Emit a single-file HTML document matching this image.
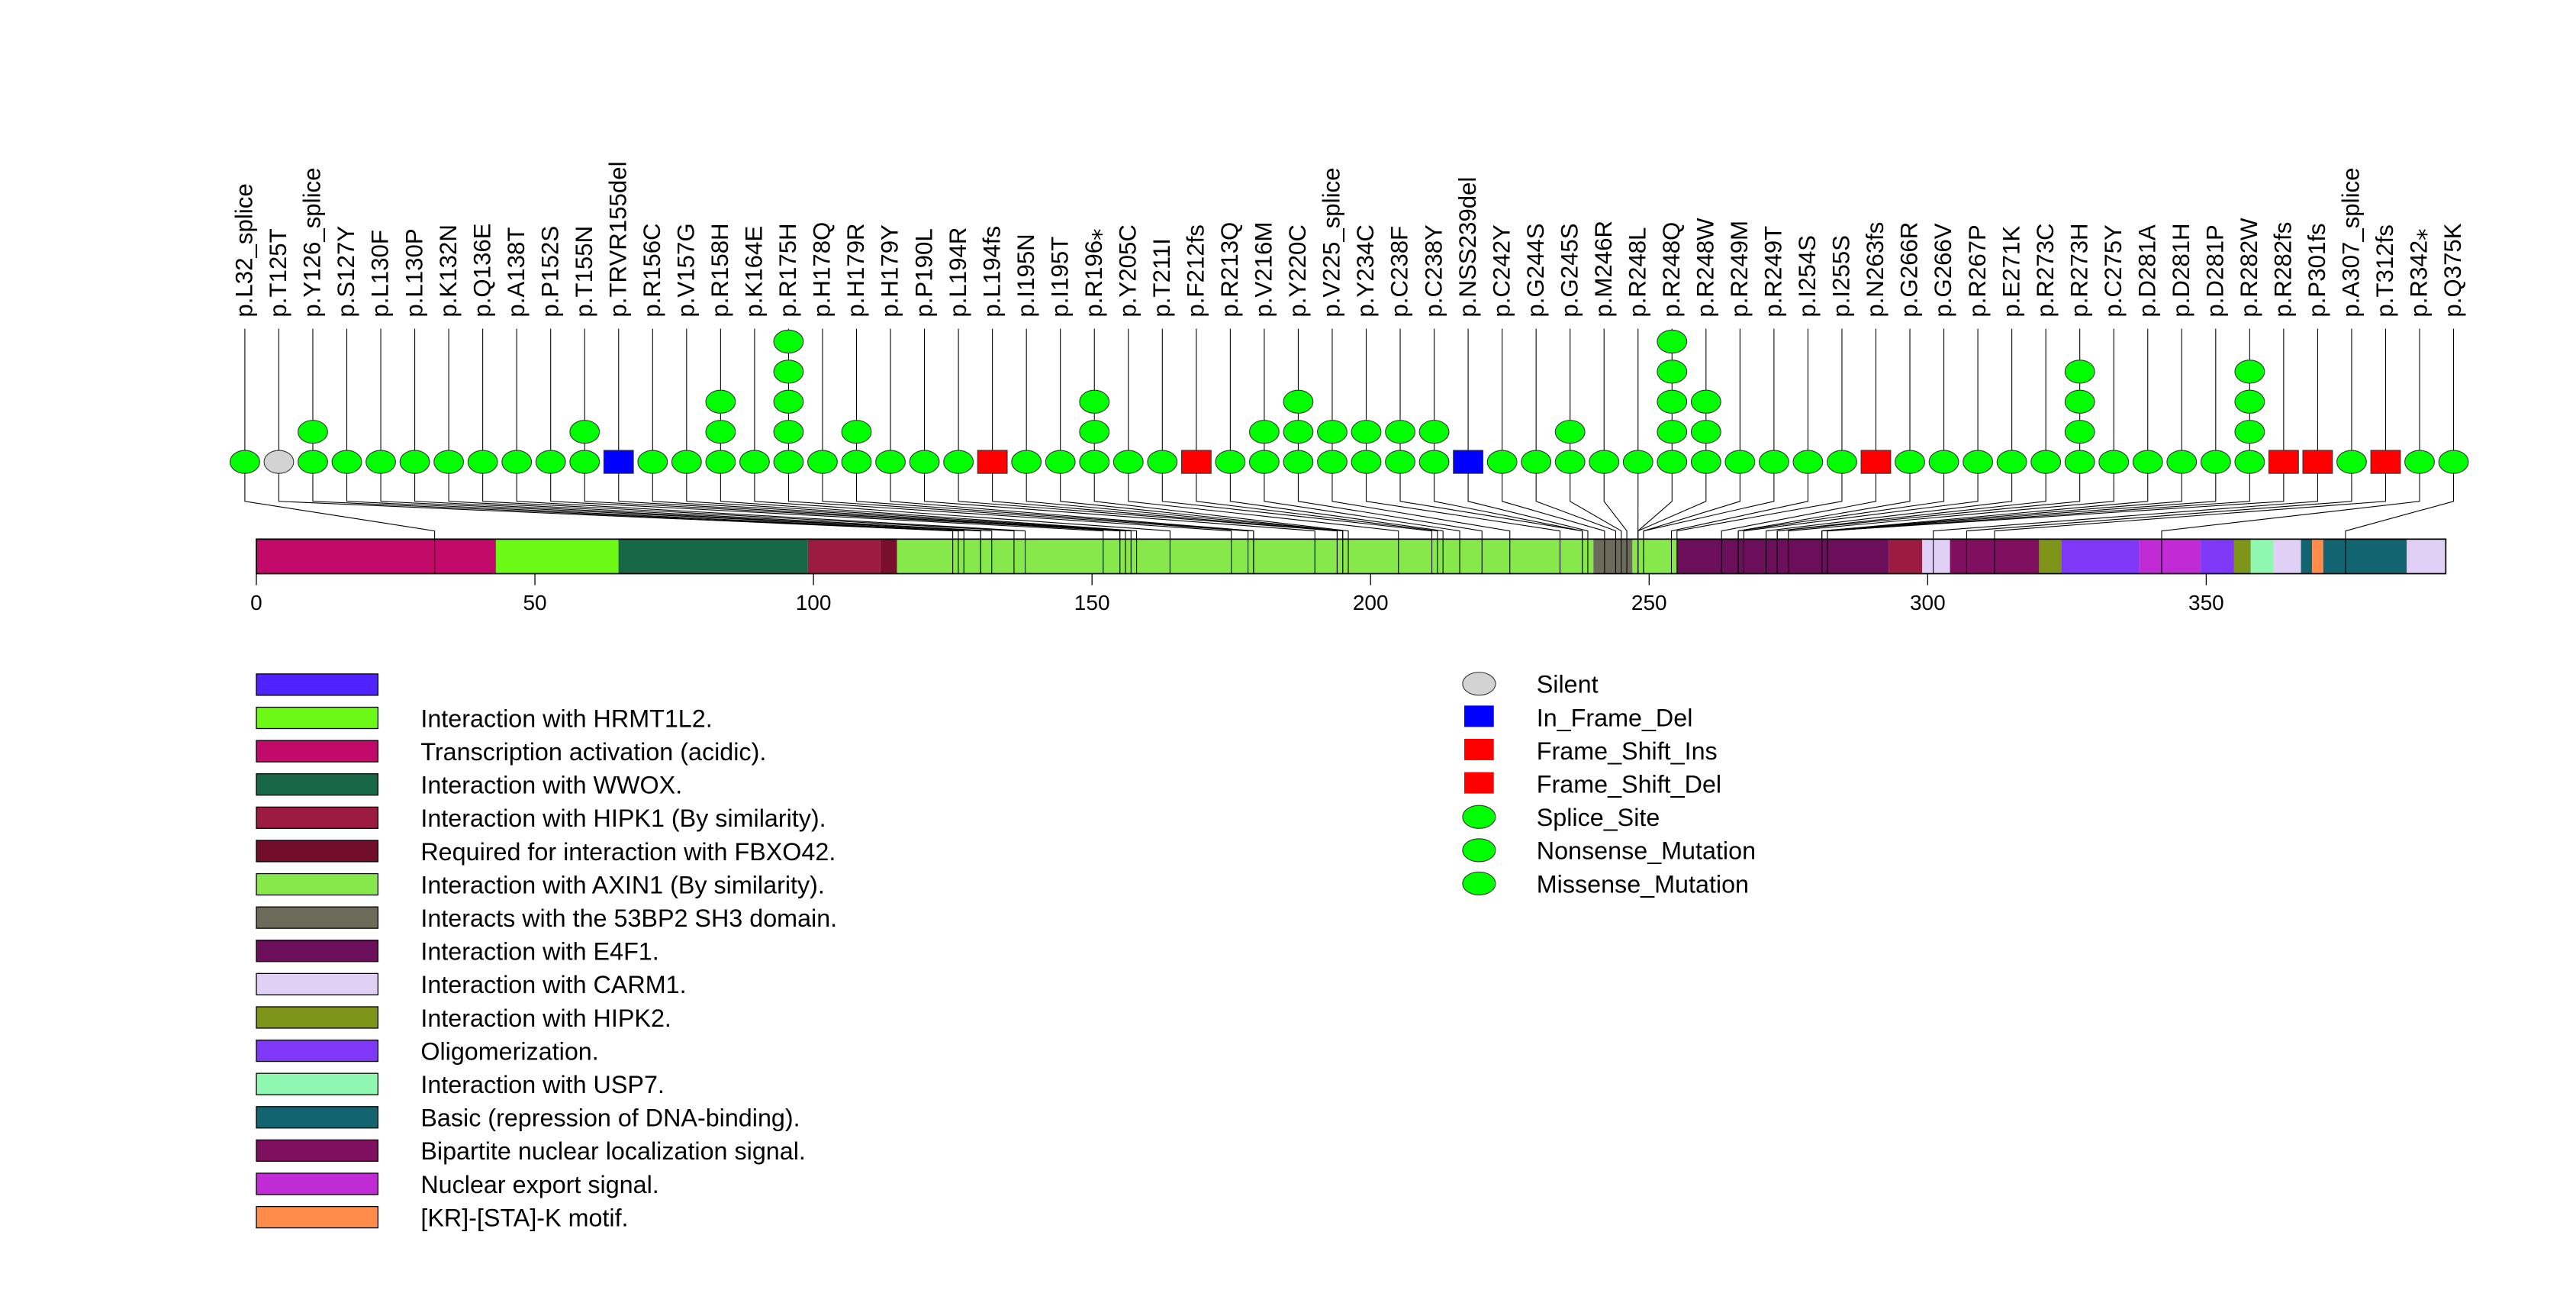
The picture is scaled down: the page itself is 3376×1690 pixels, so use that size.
<!DOCTYPE html>
<html><head><meta charset="utf-8"><style>
html,body{margin:0;padding:0;background:#fff;}
svg{display:block;font-family:"Liberation Sans",sans-serif;}
</style></head><body>
<svg id="chart" width="3376" height="1690" viewBox="0 0 1567.5 784.8" preserveAspectRatio="none" xmlns="http://www.w3.org/2000/svg"></svg>
<script>
const labels=["p.L32_splice","p.T125T","p.Y126_splice","p.S127Y","p.L130F","p.L130P","p.K132N","p.Q136E","p.A138T","p.P152S","p.T155N","p.TRVR155del","p.R156C","p.V157G","p.R158H","p.K164E","p.R175H","p.H178Q","p.H179R","p.H179Y","p.P190L","p.L194R","p.L194fs","p.I195N","p.I195T","p.R196\u204E","p.Y205C","p.T211I","p.F212fs","p.R213Q","p.V216M","p.Y220C","p.V225_splice","p.Y234C","p.C238F","p.C238Y","p.NSS239del","p.C242Y","p.G244S","p.G245S","p.M246R","p.R248L","p.R248Q","p.R248W","p.R249M","p.R249T","p.I254S","p.I255S","p.N263fs","p.G266R","p.G266V","p.R267P","p.E271K","p.R273C","p.R273H","p.C275Y","p.D281A","p.D281H","p.D281P","p.R282W","p.R282fs","p.P301fs","p.A307_splice","p.T312fs","p.R342\u204E","p.Q375K"];
const positions=[32,125,126,127,130,130,132,136,138,152,155,155,156,157,158,164,175,178,179,179,190,194,194,195,195,196,205,211,212,213,216,220,225,234,238,238,239,242,244,245,246,248,248,248,249,249,254,255,263,266,266,267,271,273,273,275,281,281,281,282,282,301,307,312,342,375];
const counts=[1,1,2,1,1,1,1,1,1,1,2,1,1,1,3,1,5,1,2,1,1,1,1,1,1,3,1,1,1,1,2,3,2,2,2,2,1,1,1,2,1,1,5,3,1,1,1,1,1,1,1,1,1,1,4,1,1,1,1,4,1,1,1,1,1,1];
const types=["g","s","g","g","g","g","g","g","g","g","g","b","g","g","g","g","g","g","g","g","g","g","r","g","g","g","g","g","r","g","g","g","g","g","g","g","b","g","g","g","g","g","g","g","g","g","g","g","r","g","g","g","g","g","g","g","g","g","g","g","r","r","g","r","g","g"];
const domStart=[0,43,65,99,112,115,240,247,255,293,299,304,320,324,338,349,355,358,362,367,369,371,386];
const domEnd=[43,65,99,112,115,240,247,255,293,299,304,320,324,338,349,355,358,362,367,369,371,386,393];
const domColor=["#C20A6A","#6CF915","#176645","#9B1C40","#7A0F2D","#86E84A","#6B6B5A","#86E84A","#6B0F5A","#9B1C40","#E0D0F5","#7F1060","#7F951A","#7F38F5","#C02BD6","#7F38F5","#7F951A","#8FF8B0","#E0D0F5","#126570","#FF8C4A","#126570","#E0D0F5"];
const ticks=[0,50,100,150,200,250,300,350];
const legNames=["","Interaction with HRMT1L2.","Transcription activation (acidic).","Interaction with WWOX.","Interaction with HIPK1 (By similarity).","Required for interaction with FBXO42.","Interaction with AXIN1 (By similarity).","Interacts with the 53BP2 SH3 domain.","Interaction with E4F1.","Interaction with CARM1.","Interaction with HIPK2.","Oligomerization.","Interaction with USP7.","Basic (repression of DNA-binding).","Bipartite nuclear localization signal.","Nuclear export signal.","[KR]-[STA]-K motif."];
const legColors=["#4F22FF","#6CF915","#C20A6A","#176645","#9B1C40","#720E2B","#86E84A","#6B6B5A","#6B0F5A","#E0D0F5","#7F951A","#7F38F5","#8FF8B0","#126570","#7F1060","#C02BD6","#FF8C4A"];
const typeNames=["Silent","In_Frame_Del","Frame_Shift_Ins","Frame_Shift_Del","Splice_Site","Nonsense_Mutation","Missense_Mutation"];
const typeKeys=["s","b","r","r","g","g","g"];

const NS="http://www.w3.org/2000/svg";
const svg=document.getElementById('chart');
function mk(tag,attrs,parent){const e=document.createElementNS(NS,tag);for(const k in attrs)e.setAttribute(k,attrs[k]);(parent||svg).appendChild(e);return e;}
const x0=156,unit=3.39;
function xAa(a){return x0+a*unit;}
function xIdx(i){return 149+i*(1493-149)/(labels.length-1);}
const baseY=281,step=18.3,barTop=328,barBot=349;
const fill={g:"#00FF00",s:"#D3D3D3",b:"#0000FF",r:"#FF0000"};

const lines=mk('g',{});


for(let i=0;i<labels.length;i++){
  const mx=xIdx(i),px=xAa(positions[i]);
  const l=mk('polyline',{points:`${mx},200 ${mx},305 ${px},323 ${px},${barTop}`,fill:"none",stroke:"#000","stroke-width":0.5},lines);
  
  
}
const bar=mk('g',{});


for(let i=0;i<domStart.length;i++){
  const r=mk('rect',{x:xAa(domStart[i]),y:barTop,width:xAa(domEnd[i])-xAa(domStart[i]),height:barBot-barTop,fill:domColor[i]},bar);
  
  
}
for(let i=0;i<positions.length;i++){
  mk('line',{x1:xAa(positions[i]),x2:xAa(positions[i]),y1:barTop,y2:barBot,stroke:"#000","stroke-width":0.5},bar);
}
mk('rect',{x:xAa(0),y:barTop,width:xAa(393)-xAa(0),height:barBot-barTop,fill:"none",stroke:"#000","stroke-width":0.8},bar);
const ax=mk('g',{});


for(const t of ticks){
  mk('line',{x1:xAa(t),x2:xAa(t),y1:barBot,y2:356,stroke:"#000","stroke-width":0.6},ax);
  const tx=mk('text',{x:xAa(t),y:371,"font-size":13,"text-anchor":"middle"},ax);
  tx.textContent=t;
  
  
}
for(let i=0;i<labels.length;i++){
  const mx=xIdx(i);
  const lab=mk('text',{x:0,y:0,"font-size":14.5,transform:`translate(${mx+4.5},193) rotate(-90)`});
  lab.textContent=labels[i];
  
  
  for(let k=0;k<counts[i];k++){
    const y=baseY-k*step;let m;
    if(types[i]==='b'||types[i]==='r'){
      m=mk('rect',{x:mx-9,y:y-7,width:18,height:14,fill:fill[types[i]],stroke:"#333","stroke-width":0.5});
    } else {
      m=mk('ellipse',{cx:mx,cy:y,rx:9,ry:7,fill:fill[types[i]],stroke:"#333","stroke-width":0.5});
    }
    
    
  }
}
for(let i=0;i<legNames.length;i++){
  const y=410+i*20.25;
  const r=mk('rect',{x:156,y:y,width:74,height:13,fill:legColors[i],stroke:"#000","stroke-width":0.6});
  
  
  const t=mk('text',{x:256,y:y+12,"font-size":15});
  t.textContent=legNames[i];
  
  
}
for(let i=0;i<typeNames.length;i++){
  const y=416+i*20.25;let m;
  if(typeKeys[i]==='b'||typeKeys[i]==='r'){
    m=mk('rect',{x:891,y:y-7,width:18,height:13,fill:fill[typeKeys[i]]});
  } else {
    m=mk('ellipse',{cx:900,cy:y,rx:10,ry:7,fill:fill[typeKeys[i]],stroke:"#333","stroke-width":0.5});
  }
  
  
  const t=mk('text',{x:935,y:y+5.5,"font-size":15});
  t.textContent=typeNames[i];
  
  
}
</script>
</body></html>
